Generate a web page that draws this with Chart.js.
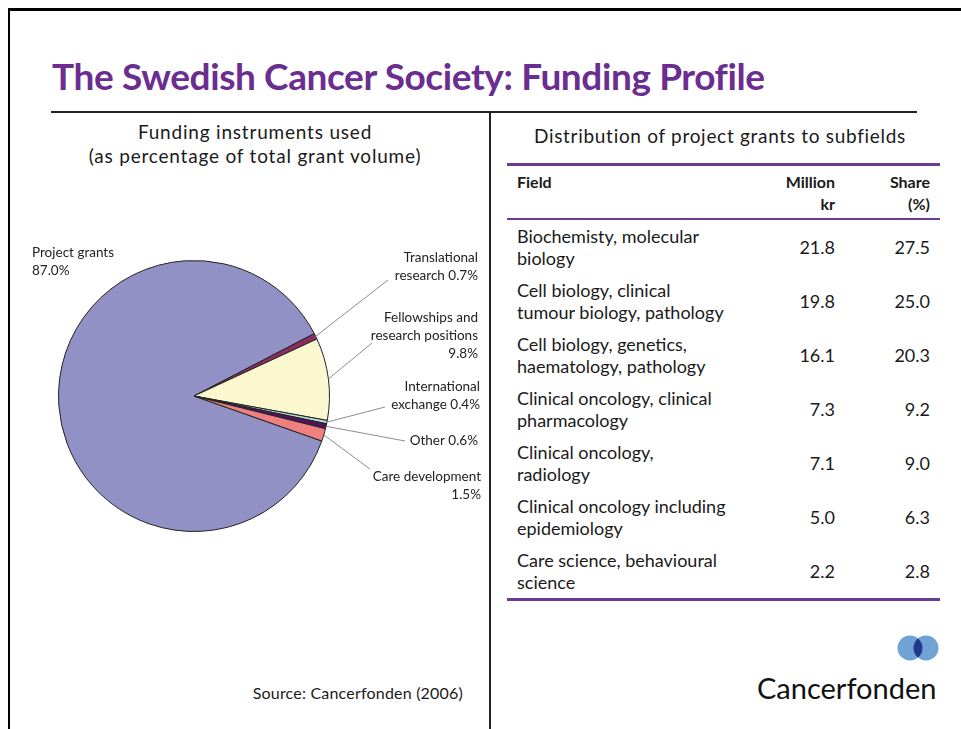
<!DOCTYPE html>
<html>
<head>
<meta charset="utf-8">
<script src="https://cdn.jsdelivr.net/npm/chart.js@4/dist/chart.umd.min.js"></script>
<style>
  html, body { margin: 0; padding: 0; background: #fff; }
  body { width: 961px; height: 729px; position: relative; overflow: hidden; font-family: Lato, "Noto Sans", sans-serif; color: #1a1a1a; }
  .abs { position: absolute; }
  #title { left: 52px; top: 53px; font-size: 37px; font-weight: bold; color: #6b2d90; white-space: nowrap; letter-spacing: -0.4px; }
  .sub { font-size: 19px; text-align: center; line-height: 24px; white-space: nowrap; }
  #tbl { left: 507px; top: 163px; width: 433px; border-collapse: collapse; table-layout: fixed; font-size: 18px; }
  #tbl th { font-weight: bold; font-size: 16px; line-height: 22px; vertical-align: top; padding: 5px 0 0 0; height: 47px; }
  #tbl td { line-height: 22px; height: 54px; padding: 0; vertical-align: middle; }
  #tbl thead tr { border-top: 3px solid #6b3a95; border-bottom: 2px solid #6b3a95; }
  #tbl tbody tr:last-child { border-bottom: 3px solid #6b3a95; }
  #tbl .c1 { padding-left: 10px; text-align: left; }
  #tbl .c2 { text-align: right; }
  #tbl .c3 { text-align: right; padding-right: 10px; }
</style>
</head>
<body>
<div class="abs" style="left:8px;top:8px;width:953px;height:3px;background:#000"></div>
<div class="abs" style="left:8px;top:8px;width:2px;height:721px;background:#000"></div>
<div id="title" class="abs">The Swedish Cancer Society: Funding Profile</div>
<div class="abs" style="left:51px;top:111px;width:866px;height:2px;background:#222"></div>
<div class="abs" style="left:489px;top:112px;width:1.5px;height:617px;background:#222"></div>

<div class="abs sub" style="left:40px;top:120px;width:430px;letter-spacing:0.8px">Funding instruments used<br>(as percentage of total grant volume)</div>
<div class="abs sub" style="left:500px;top:124px;width:440px;letter-spacing:0.7px">Distribution of project grants to subfields</div>

<div class="abs" style="left:20px;top:230px;width:470px;height:310px"><canvas id="pie"></canvas></div>

<table id="tbl" class="abs">
  <colgroup><col style="width:250px"><col style="width:78px"><col style="width:105px"></colgroup>
  <thead><tr><th class="c1">Field</th><th class="c2">Million<br>kr</th><th class="c3">Share<br>(%)</th></tr></thead>
  <tbody id="tbody"></tbody>
</table>

<div class="abs" style="left:200px;top:683px;width:263px;text-align:right;font-size:16px;letter-spacing:0.2px;white-space:nowrap">Source: Cancerfonden (2006)</div>

<svg class="abs" style="left:890px;top:630px" width="50" height="36">
  <defs><clipPath id="cl"><circle cx="20" cy="18" r="12.5"/></clipPath></defs>
  <circle cx="20" cy="18" r="12.5" fill="#6fa3d6"/>
  <circle cx="36" cy="18" r="12.5" fill="#6fa3d6"/>
  <circle cx="36" cy="18" r="12.5" fill="#1f3b8a" clip-path="url(#cl)"/>
</svg>
<div class="abs" style="left:757px;top:670px;font-size:29px;color:#111;white-space:nowrap">Cancerfonden</div>

<script>
// pie: funding instruments (% of total grant volume)
const categories = ['Project grants', 'Translational research', 'Fellowships and research positions',
  'International exchange', 'Other', 'Care development'];
const shares = [87.0, 0.7, 9.8, 0.4, 0.6, 1.5];
const sliceColors = ['#9191c6', '#8b2d63', '#fbf8cf', '#b3dbd2', '#50145f', '#f08080'];
// callout text lines, the share gets appended to the last line
const labelLines = [['Project grants', ''], ['Translational', 'research'], ['Fellowships and', 'research positions', ''],
  ['International', 'exchange'], ['Other'], ['Care development', '']];

// table: project grants by subfield
const fields = [
  ['Biochemisty, molecular', 'biology'],
  ['Cell biology, clinical', 'tumour biology, pathology'],
  ['Cell biology, genetics,', 'haematology, pathology'],
  ['Clinical oncology, clinical', 'pharmacology'],
  ['Clinical oncology,', 'radiology'],
  ['Clinical oncology including', 'epidemiology'],
  ['Care science, behavioural', 'science']
];
const millionKr = [21.8, 19.8, 16.1, 7.3, 7.1, 5.0, 2.2];
const sharePct = [27.5, 25.0, 20.3, 9.2, 9.0, 6.3, 2.8];

const tbody = document.getElementById('tbody');
fields.forEach((f, i) => {
  const tr = document.createElement('tr');
  tr.innerHTML = '<td class="c1">' + f.join('<br>') + '</td><td class="c2">' + millionKr[i].toFixed(1) +
    '</td><td class="c3">' + sharePct[i].toFixed(1) + '</td>';
  tbody.appendChild(tr);
});

// canvas offset on the page, callouts are placed in page coords
const OX = 20, OY = 230;
const callouts = [
  { x: 32, y: [253, 271], align: 'left' },
  { x: 478, y: [258, 276], end: [388, 280] },
  { x: 478, y: [318, 336, 354], end: [372, 343] },
  { x: 480, y: [387, 405], end: [385, 407] },
  { x: 478, y: [441], end: [405, 441] },
  { x: 481, y: [477, 495], end: [370, 469] }
];

const calloutPlugin = {
  id: 'callouts',
  afterDatasetsDraw(chart) {
    const ctx = chart.ctx;
    const arcs = chart.getDatasetMeta(0).data;
    ctx.save();
    ctx.font = '13.5px Lato, "Noto Sans", sans-serif';
    ctx.textBaseline = 'middle';
    callouts.forEach((c, i) => {
      if (c.end) {
        const p = arcs[i].getProps(['x', 'y', 'startAngle', 'endAngle', 'outerRadius'], true);
        const mid = (p.startAngle + p.endAngle) / 2;
        ctx.strokeStyle = '#8c8c8c';
        ctx.lineWidth = 1;
        ctx.beginPath();
        ctx.moveTo(p.x + Math.cos(mid) * p.outerRadius, p.y + Math.sin(mid) * p.outerRadius);
        ctx.lineTo(c.end[0] - OX, c.end[1] - OY);
        ctx.stroke();
      }
      const lines = labelLines[i].slice();
      const last = lines.length - 1;
      lines[last] = (lines[last] ? lines[last] + ' ' : '') + shares[i].toFixed(1) + '%';
      ctx.fillStyle = '#222';
      ctx.textAlign = c.align || 'right';
      lines.forEach((t, k) => ctx.fillText(t, c.x - OX, c.y[k] - OY));
    });
    ctx.restore();
  }
};

new Chart(document.getElementById('pie'), {
  type: 'pie',
  data: {
    labels: categories,
    datasets: [{
      data: shares,
      backgroundColor: sliceColors,
      borderColor: '#222',
      borderWidth: 1
    }]
  },
  options: {
    responsive: true,
    maintainAspectRatio: false,
    animation: false,
    rotation: 109.4,
    layout: { padding: { left: 38, right: 160, top: 30, bottom: 8 } },
    plugins: { legend: { display: false }, tooltip: { enabled: false } },
    events: []
  },
  plugins: [calloutPlugin]
});
</script>
</body>
</html>
